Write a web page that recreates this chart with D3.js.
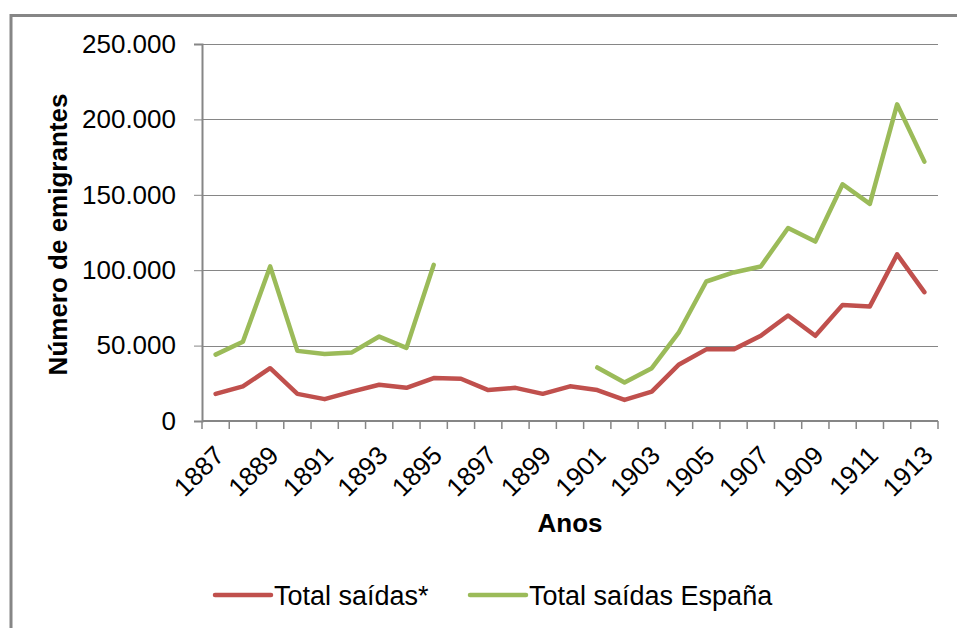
<!DOCTYPE html>
<html>
<head>
<meta charset="utf-8">
<script src="https://cdn.jsdelivr.net/npm/d3@7"></script>
<style>
  body { margin: 0; background: #fff; }
  text { font-family: "Liberation Sans", Arial, sans-serif; fill: #000; }
</style>
</head>
<body>
<div class="chart"></div>
<script>
var WIDTH = 957;
var HEIGHT = 628;

// plot area
var LEFT = 202, RIGHT = 938, TOP = 44, BOTTOM = 421;

var years = d3.range(1887, 1914).map(String);

// Total saídas*
var totalSaidas = [18000, 23000, 35000, 18000, 14500, 19500, 24000, 22000, 28500, 28000,
                   20500, 22000, 18000, 23000, 20500, 14000, 19500, 37500, 47500, 47500,
                   56500, 70000, 56500, 77000, 76000, 110500, 85500];

// Total saídas España (no data 1896-1900)
var totalEspana = [44000, 52500, 102500, 46500, 44500, 45500, 56000, 48500, 103500, null,
                   null, null, null, null, 35500, 25500, 35000, 59000, 92500, 98500,
                   102500, 128000, 119000, 157000, 144000, 210000, 172000];

var yTicks = [0, 50000, 100000, 150000, 200000, 250000];
var xLabelYears = years.filter(function(d, i) { return i % 2 === 0; });

var seriesNames = ["Total saídas*", "Total saídas España"];
var seriesColors = ["#C0504D", "#9BBB59"];

var svg = d3.select(".chart")
    .append("svg")
    .attr("width", WIDTH)
    .attr("height", HEIGHT);

// outer chart frame
svg.append("rect")
    .attr("x", 11)
    .attr("y", 15.5)
    .attr("width", WIDTH + 20)
    .attr("height", HEIGHT + 20)
    .attr("fill", "none")
    .attr("stroke", "#868686")
    .attr("stroke-width", 3);

var x = d3.scaleBand()
    .domain(years)
    .range([LEFT, RIGHT]);

var y = d3.scaleLinear()
    .domain([0, 250000])
    .range([BOTTOM, TOP]);

var fmt = function(d) { return d3.format(",")(d).replace(/,/g, "."); };

// gridlines
svg.append("g")
    .selectAll("line")
    .data(yTicks.slice(1))
    .enter().append("line")
    .attr("x1", LEFT)
    .attr("x2", RIGHT)
    .attr("y1", function(d) { return Math.round(y(d)) + 0.5; })
    .attr("y2", function(d) { return Math.round(y(d)) + 0.5; })
    .attr("stroke", "#868686")
    .attr("stroke-width", 1);

// y axis
var yAxis = svg.append("g")
    .attr("transform", "translate(" + LEFT + ",0)")
    .call(d3.axisLeft(y).tickValues(yTicks).tickFormat(fmt).tickSize(8).tickPadding(18));
yAxis.select(".domain").attr("stroke", "#868686").attr("stroke-width", 2);
yAxis.selectAll(".tick line").attr("stroke", "#868686");
yAxis.selectAll(".tick text")
    .attr("font-size", 26)
    .attr("font-family", "Liberation Sans, Arial, sans-serif");

// x axis with ticks between categories
var xAxis = svg.append("g")
    .attr("transform", "translate(0," + BOTTOM + ")");
xAxis.append("line")
    .attr("x1", LEFT)
    .attr("x2", RIGHT)
    .attr("stroke", "#868686")
    .attr("stroke-width", 2);
xAxis.selectAll(".tk")
    .data(years.concat(["end"]))
    .enter().append("line")
    .attr("class", "tk")
    .attr("x1", function(d, i) { return i < years.length ? x(d) : RIGHT; })
    .attr("x2", function(d, i) { return i < years.length ? x(d) : RIGHT; })
    .attr("y1", 0)
    .attr("y2", 8)
    .attr("stroke", "#868686")
    .attr("stroke-width", 1.5);

svg.append("g")
    .selectAll("text")
    .data(xLabelYears)
    .enter().append("text")
    .attr("transform", function(d) {
        var cx = x(d) + x.bandwidth() / 2;
        return "translate(" + (cx + 10) + "," + (BOTTOM + 36) + ") rotate(-45)";
    })
    .attr("text-anchor", "end")
    .attr("font-size", 26)
    .text(function(d) { return d; });

// lines
var line = d3.line()
    .defined(function(d) { return d != null; })
    .x(function(d, i) { return x(years[i]) + x.bandwidth() / 2; })
    .y(function(d) { return y(d); });

[totalSaidas, totalEspana].forEach(function(s, k) {
    svg.append("path")
        .datum(s)
        .attr("d", line)
        .attr("fill", "none")
        .attr("stroke", seriesColors[k])
        .attr("stroke-width", 4.5)
        .attr("stroke-linejoin", "round")
        .attr("stroke-linecap", "round");
});

// axis titles
svg.append("text")
    .attr("transform", "translate(67," + ((TOP + BOTTOM) / 2 + 2) + ") rotate(-90)")
    .attr("text-anchor", "middle")
    .attr("font-size", 26)
    .attr("font-weight", "bold")
    .text("Número de emigrantes");

svg.append("text")
    .attr("x", 570)
    .attr("y", 532)
    .attr("text-anchor", "middle")
    .attr("font-size", 26)
    .attr("font-weight", "bold")
    .text("Anos");

// legend
var legendX = [215, 470];
var legend = svg.append("g")
    .selectAll("g")
    .data(seriesNames)
    .enter().append("g")
    .attr("transform", function(d, i) { return "translate(" + legendX[i] + ",595)"; });
legend.append("line")
    .attr("x1", 0)
    .attr("x2", 56)
    .attr("stroke", function(d, i) { return seriesColors[i]; })
    .attr("stroke-width", 4.5)
    .attr("stroke-linecap", "round");
legend.append("text")
    .attr("x", 59)
    .attr("y", 9.5)
    .attr("font-size", 27)
    .text(function(d) { return d; });
</script>
</body>
</html>
